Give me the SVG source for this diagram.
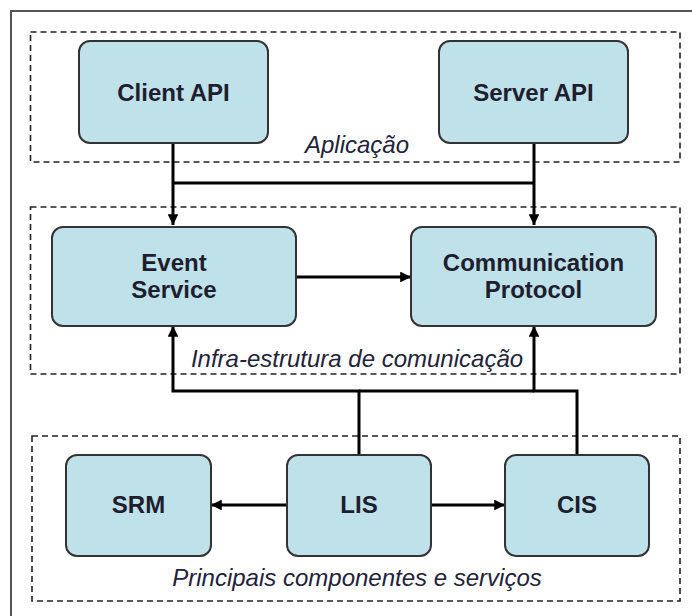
<svg xmlns="http://www.w3.org/2000/svg" width="692" height="616" viewBox="0 0 692 616">
<style>
.node rect{fill:#bfe1e9;stroke:#333;stroke-width:2}
.lbl{font-family:"Liberation Sans",Arial,sans-serif;font-weight:bold;font-size:24px;fill:#1e1e2e;text-anchor:middle}
.grp{fill:none;stroke:#222;stroke-width:1.6;stroke-dasharray:6 4}
.cap{font-family:"Liberation Sans",Arial,sans-serif;font-style:italic;font-size:24px;fill:#22223a;text-anchor:middle}
.conn path{fill:none;stroke:#000;stroke-width:3}
</style>
<defs>
<marker id="ah" viewBox="0 0 10 10" refX="10" refY="5" markerWidth="4" markerHeight="3.6" orient="auto" markerUnits="strokeWidth">
<path d="M0,0 L10,5 L0,10 z" fill="#000"/>
</marker>
</defs>
<rect x="0" y="0" width="692" height="616" fill="#fff"/>
<path d="M11,620 V11 H696" fill="none" stroke="#555" stroke-width="2"/>
<g id="groups">
<rect class="grp" x="30.5" y="32" width="649.5" height="130"/>
<rect class="grp" x="30.5" y="207" width="649.5" height="167"/>
<rect class="grp" x="32" y="436" width="648" height="165"/>
<text class="cap" x="357" y="153">Aplicação</text>
<text class="cap" x="357" y="367">Infra-estrutura de comunicação</text>
<text class="cap" x="357" y="586">Principais componentes e serviços</text>
</g>
<g class="conn" id="connectors">
<path d="M173,143 V225" marker-end="url(#ah)"/>
<path d="M173,183 H534"/>
<path d="M534,143 V225" marker-end="url(#ah)"/>
<path d="M296,277 H411" marker-end="url(#ah)"/>
<path d="M359,455 V391 H173 V326" marker-end="url(#ah)"/>
<path d="M577,455 V391 H534 V326" marker-end="url(#ah)"/>
<path d="M359,391 H534"/>
<path d="M287,505 H211" marker-end="url(#ah)"/>
<path d="M431,505 H505" marker-end="url(#ah)"/>
</g>
<g class="node" id="client-api"><rect x="79" y="41" width="189" height="102" rx="11"/><text class="lbl" x="173.5" y="101">Client API</text></g>
<g class="node" id="server-api"><rect x="439" y="41" width="189" height="102" rx="11"/><text class="lbl" x="533.5" y="101">Server API</text></g>
<g class="node" id="event-service"><rect x="52" y="227" width="244" height="99" rx="11"/><text class="lbl" x="174" y="271">Event</text><text class="lbl" x="174" y="298">Service</text></g>
<g class="node" id="communication-protocol"><rect x="411" y="227" width="245" height="99" rx="11"/><text class="lbl" x="533.5" y="271">Communication</text><text class="lbl" x="533.5" y="298">Protocol</text></g>
<g class="node" id="srm"><rect x="66" y="455" width="145" height="101" rx="11"/><text class="lbl" x="138.5" y="513">SRM</text></g>
<g class="node" id="lis"><rect x="287" y="455" width="144" height="101" rx="11"/><text class="lbl" x="359" y="513">LIS</text></g>
<g class="node" id="cis"><rect x="505" y="455" width="144" height="101" rx="11"/><text class="lbl" x="577" y="513">CIS</text></g>
</svg>
